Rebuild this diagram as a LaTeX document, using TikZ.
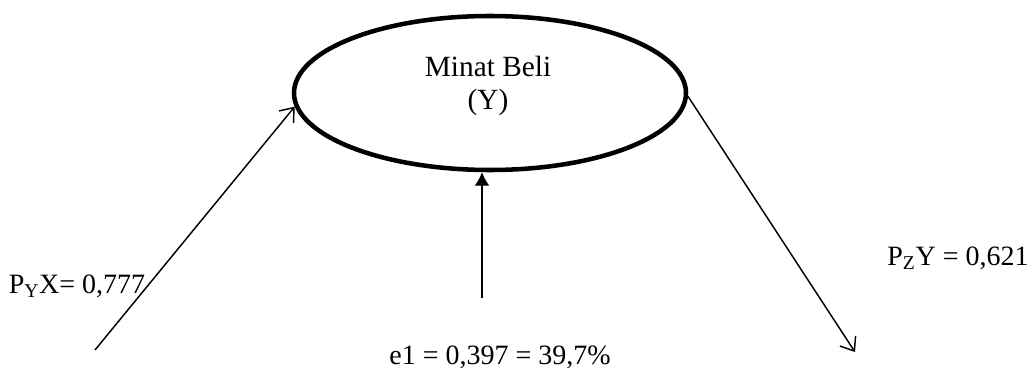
\documentclass[tikz,border=0pt]{standalone}
\usepackage{fontspec}
\setmainfont{Liberation Serif}
\usetikzlibrary{shapes.geometric, arrows.meta}
\tikzset{
  varbox/.style={ellipse, draw, line width=3.4pt, minimum width=294pt, minimum height=115.5pt, inner sep=0pt},
  pathlbl/.style={font=\fontsize{21}{25}\selectfont, inner sep=0pt},
  pathline/.style={line width=1.1pt, -{Straight Barb[length=9pt,width=14pt,line width=1.1pt]}},
  errline/.style={line width=0.9pt, -{Latex[length=10pt,width=11pt]}}
}
\begin{document}
\begin{tikzpicture}[x=0.75pt, y=-0.75pt]
  % Canvas
  \useasboundingbox (0,0) rectangle (1036,371);
  % Endogenous variable
  \node[varbox] (minat) at (490,93) {};
  \node[font=\fontsize{22}{25}\selectfont, align=center, inner sep=0pt] (minatlbl) at (488,86) {Minat Beli\\(Y)};
  % Free ends
  \coordinate (xin) at (95,350);
  \coordinate (zout) at (855,352);
  \coordinate (etop) at (482,298);
  % Paths
  \draw[pathline] (xin) -- (minat.184);
  \draw[pathline] (minat.-1) -- (zout);
  \draw[errline] (etop) -- (etop |- minat.south);
  % Coefficients
  \node[pathlbl] (pyx) at (77,286) {P\textsubscript{Y}X= 0,777};
  \node[pathlbl] (pzy) at (958,258) {P\textsubscript{Z}Y = 0,621};
  \node[pathlbl] (err) at (500,357) {e1 = 0,397 = 39,7\%};
\end{tikzpicture}
\end{document}
